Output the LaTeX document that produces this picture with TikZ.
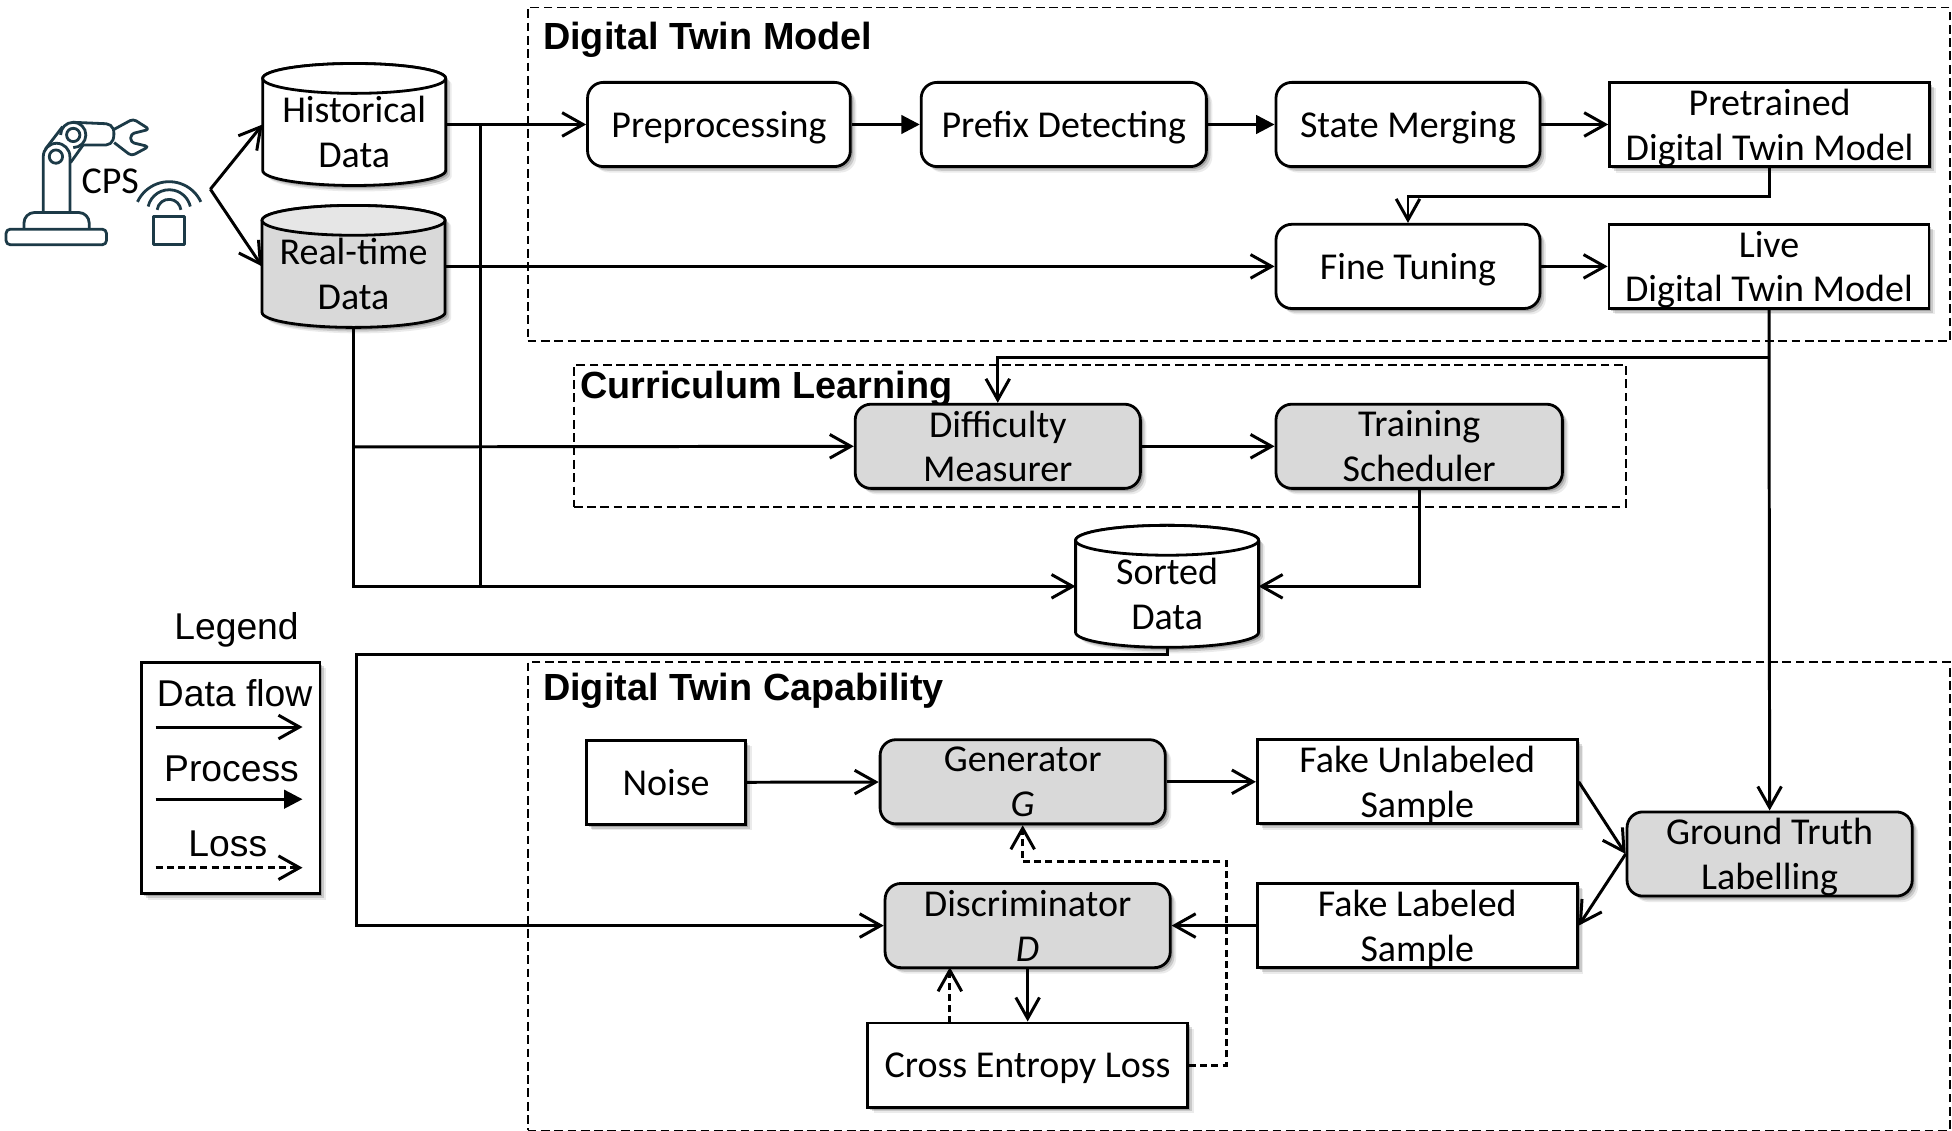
\documentclass[tikz,border=0pt]{standalone}
\usepackage{amsmath, amssymb}
\usepackage{fontspec}
\setmainfont{Carlito}
\newfontfamily\arialfont{Liberation Sans}
\usepackage{tikz}
\usetikzlibrary{positioning, shapes.geometric, arrows.meta, shadows}

\tikzset{
    softshadow/.style={
        drop shadow={shadow xshift=3.4pt, shadow yshift=-3.4pt, fill=black, opacity=.08},
        drop shadow={shadow xshift=2.4pt, shadow yshift=-2.4pt, fill=black, opacity=.14},
        drop shadow={shadow xshift=1.4pt, shadow yshift=-1.4pt, fill=black, opacity=.2}},
    boxtext/.style={font=\fontsize{21.7}{25.6}\selectfont, align=center, inner sep=0pt, text depth=0pt, line width=1.6pt, draw=black},
    plainbox/.style={boxtext, rectangle, fill=white, softshadow, minimum height=1.69cm},
    roundbox/.style={plainbox, rounded corners=9pt},
    greybox/.style={roundbox, fill=boxgrey},
    dbase/.style={rectangle, inner sep=0pt, outer sep=0pt, minimum width=3.675cm, minimum height=2.45cm},
    dbtext/.style={font=\fontsize{21.7}{25.6}\selectfont, align=center, inner sep=0pt, text depth=0pt, yshift=-4.3pt},
    frame/.style={rectangle, draw=black, line width=1pt, dash pattern=on 5pt off 2.6pt, inner sep=0pt},
    heading/.style={font=\arialfont\bfseries\fontsize{21.6}{25}\selectfont, anchor=west, inner sep=0pt, text depth=0pt},
    legendtext/.style={font=\arialfont\fontsize{21.3}{25}\selectfont, inner sep=0pt},
    flow/.style={line width=1.7pt, -{Straight Barb[length=12pt, width=13.5pt, line width=1.7pt]}},
    procflow/.style={line width=1.7pt, -{Triangle[length=10.5pt, width=10.5pt]}},
    lossflow/.style={flow, dash pattern=on 4pt off 2.4pt},
    icon/.style={draw=icondark, line width=1.6pt, line join=round},
    % body colour, then colour of the top face
    pics/drum/.style 2 args={code={
        \draw[line width=1.6pt, fill=#1, softshadow] (-73.5,-37) -- (-73.5,37) arc (180:0:73.5 and 12) -- (73.5,-37) arc (360:180:73.5 and 12) -- cycle;
        \draw[line width=1.6pt, fill=#2] (0,-37) ellipse (73.5 and 12);
    }},
}
\definecolor{boxgrey}{HTML}{D9D9D9}
\definecolor{icondark}{HTML}{1C3A47}

\begin{document}
\begin{tikzpicture}[x=0.025cm, y=-0.025cm]
    \useasboundingbox (0,0) rectangle (1568,908.5);

    % Dashed groups with their headings
    \node[frame, minimum width=28.55cm, minimum height=6.7cm] (twinframe) at (995,140) {};
    \node[frame, minimum width=21.125cm, minimum height=2.85cm] (curriframe) at (883.5,350) {};
    \node[frame, minimum width=28.55cm, minimum height=9.4cm] (capaframe) at (995,720) {};
    \node[heading] (twintitle) at (436,29) {Digital Twin Model};
    \node[heading] (curritle) at (466,309) {Curriculum Learning};
    \node[heading] (capatitle) at (436,552) {Digital Twin Capability};

    % Data stores: a drum shape behind a node that carries the anchors
    \node[dbase] (hist) at (284.5,100) {};
    \pic at (hist) {drum={white}{white}};
    \node[dbtext] (histtext) at (hist) {Historical\\Data};
    \node[dbase] (real) at (284,214) {};
    \pic at (real) {drum={boxgrey}{boxgrey!65}};
    \node[dbtext] (realtext) at (real) {Real-time\\Data};
    \node[dbase] (sorted) at (937.5,471) {};
    \pic at (sorted) {drum={white}{white}};
    \node[dbtext] (sortedtext) at (sorted) {Sorted\\Data};

    % Digital twin model row
    \node[roundbox, minimum width=5.275cm] (prep) at (577.5,100) {Preprocessing};
    \node[roundbox, minimum width=5.725cm] (prefix) at (854.5,100) {Prefix Detecting};
    \node[roundbox, minimum width=5.3cm] (merge) at (1131,100) {State Merging};
    \node[plainbox, minimum width=6.425cm] (pretrain) at (1421.5,100) {Pretrained\\Digital Twin Model};
    \node[roundbox, minimum width=5.3cm] (tuning) at (1131,214) {Fine Tuning};
    \node[plainbox, minimum width=6.425cm] (live) at (1421,214) {Live\\Digital Twin Model};

    % Curriculum learning
    \node[greybox, minimum width=5.725cm] (diff) at (801.5,358.5) {Difficulty\\Measurer};
    \node[greybox, minimum width=5.75cm] (sched) at (1140,358.5) {Training\\Scheduler};

    % Digital twin capability
    \node[plainbox, minimum width=3.2cm] (noise) at (535,628.5) {Noise};
    \node[greybox, minimum width=5.725cm] (gen) at (821.5,628) {Generator\\\textit{G}};
    \node[plainbox, minimum width=6.425cm] (unlab) at (1138.5,628) {Fake Unlabeled\\Sample};
    \node[greybox, minimum width=5.725cm] (truth) at (1421.5,686) {Ground Truth\\Labelling};
    \node[greybox, minimum width=5.725cm] (disc) at (825.5,743.5) {Discriminator\\\textit{D}};
    \node[plainbox, minimum width=6.425cm] (lab) at (1138.5,743.5) {Fake Labeled\\Sample};
    \node[plainbox, minimum width=6.425cm] (loss) at (825.5,855.5) {Cross Entropy Loss};

    % Robot arm and sensor, traced in a local grid
    \begin{scope}[shift={(0,88.35)}, x=0.00669cm, y=-0.00669cm]
        \draw[icon, rounded corners=2.5pt] (18,358) rectangle (320,405);
        \draw[icon, rounded corners=6pt] (72,358) -- (72,308) -- (268,308) -- (268,358);
        % column and lower joint
        \draw[icon] (130,308) -- (130,140) arc (180:360:40) -- (210,308);
        \draw[icon] (168,140) circle (20);
        % upper link and joint
        \draw[icon] (136,118) -- (188,50);
        \draw[icon] (212,158) -- (252,102);
        \draw[icon] (258,75) arc (360:180:38);
        \draw[icon] (220,75) circle (20);
        \draw[icon] (258,75) arc (0:90:38);
        % forearm and wrench head
        \draw[icon, rounded corners=3pt] (220,37) -- (335,42) -- (345,70) -- (335,105) -- (250,105);
        \draw[icon, rounded corners=2pt] (343,58) -- (400,27) -- (449,58) -- (393,72) -- (393,97) -- (447,110) -- (395,138) -- (343,98);
        % sensor
        \draw[icon] (462,320) rectangle (555,405);
        \draw[icon] (413,276) arc (205:335:105);
        \draw[icon] (445,290) arc (193:347:65);
        \draw[icon] (472,300) arc (187:353:36);
    \end{scope}
    \node[font=\fontsize{21.7}{25}\selectfont, inner sep=0pt] (cps) at (88.5,146) {CPS};
    \coordinate (cpsout) at (169,152);

    % Legend
    \node[legendtext, text depth=0pt] (legendtitle) at (190,503) {Legend};
    \node[rectangle, draw=black, line width=1.6pt, fill=white, softshadow, minimum width=3.575cm, minimum height=4.65cm] (legendbox) at (185.5,625) {};
    \node[legendtext] (legflow) at (188.5,557) {Data flow};
    \coordinate (lfa) at (125,584);
    \coordinate (lfb) at (243,584);
    \node[legendtext] (legproc) at (186,618) {Process};
    \coordinate (lpa) at (125,642);
    \coordinate (lpb) at (243,642);
    \node[legendtext] (legloss) at (183,678) {Loss};
    \coordinate (lla) at (125,697);
    \coordinate (llb) at (243,697);
    \draw[flow] (lfa) -- (lfb);
    \draw[procflow] (lpa) -- (lpb);
    \draw[lossflow] (lla) -- (llb);

    % Branch points of the long lines
    \coordinate (histdrop) at (386,100);
    \coordinate (histjoin) at (386,471);
    \coordinate (realtap) at (284,359);
    \coordinate (livetap) at (1421,287);
    \coordinate (discbus) at (286,526);
    \coordinate (lossbend) at (985,692);
    \coordinate (lossup) at (763,822);
    \coordinate (lossin) at (763,777);

    % Sensor feed into the stores
    \draw[flow] (cpsout) -- (hist.west);
    \draw[flow] (cpsout) -- (real.west);

    % Twin model flows
    \draw[flow] (hist.east |- prep) -- (prep);
    \draw[procflow] (prep) -- (prefix);
    \draw[procflow] (prefix) -- (merge);
    \draw[flow] (merge) -- (pretrain);
    \draw[flow] (pretrain.south) -- ++(0,23) -| (tuning.north);
    \draw[flow] (real.east |- tuning) -- (tuning);
    \draw[flow] (tuning) -- (live);

    % History and live data down to the curriculum part
    \draw[line width=2.1pt] (histdrop) -- (histjoin);
    \draw[flow] (real.south) |- (sorted.west);
    \draw[flow] (realtap) -- (diff.west);
    \draw[flow] (diff) -- (sched);
    \draw[flow] (sched.south) |- (sorted.east);
    \draw[flow] (live.south) -- (truth.north);
    \draw[flow] (livetap) -| (diff.north);

    % Sorted data to the discriminator
    \draw[flow] (sorted.south) |- (discbus) |- (disc.west);

    % Adversarial loop
    \draw[flow] (noise) -- (gen);
    \draw[flow] (gen) -- (unlab);
    \draw[flow] (unlab.east) -- (truth.west);
    \draw[flow] (truth.west) -- (lab.east);
    \draw[flow] (lab) -- (disc);
    \draw[flow] (disc) -- (loss);
    \draw[lossflow] (lossup) -- (lossin);
    \draw[lossflow] (loss.east) -| (lossbend) -| (gen.south);
\end{tikzpicture}
\end{document}
